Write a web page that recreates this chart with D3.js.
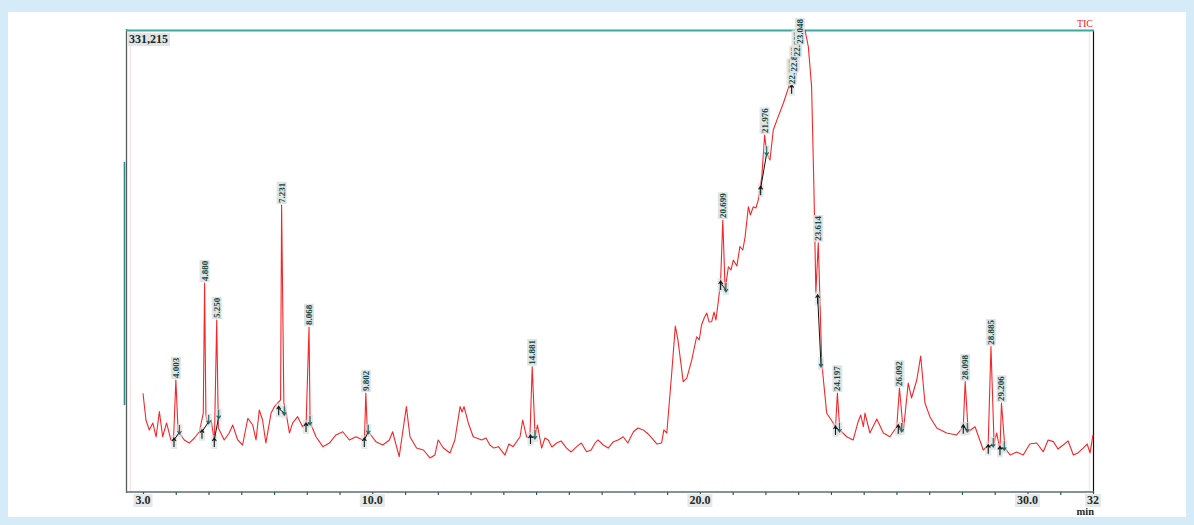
<!DOCTYPE html>
<html>
<head>
<meta charset="utf-8">
<script src="https://cdn.jsdelivr.net/npm/d3@7"></script>
<style>
  body { margin: 0; background: #d6ebf8; }
  svg { display: block; }
</style>
</head>
<body>
<script>
//chart data (time in min, intensity in thousand counts)
var times = [3.00, 3.09, 3.19, 3.30, 3.40, 3.50, 3.60, 3.72, 3.85, 3.93, 4.003, 4.07, 4.11, 4.26, 4.41, 4.57, 4.72, 4.84, 4.880, 4.92, 4.97,
  5.08, 5.18, 5.250, 5.30, 5.48, 5.63, 5.74, 5.89, 6.04, 6.20, 6.35, 6.45, 6.55, 6.65, 6.75, 6.91, 7.01, 7.11, 7.20, 7.231, 7.30,
  7.37, 7.47, 7.57, 7.72, 7.87, 7.98, 8.068, 8.10, 8.28, 8.49, 8.69, 8.89, 9.10, 9.30, 9.50, 9.71, 9.76, 9.802, 9.85, 9.91,
  10.11, 10.32, 10.52, 10.62, 10.82, 11.04, 11.15, 11.35, 11.56, 11.76, 11.91, 12.01, 12.17, 12.37, 12.52, 12.68, 12.74, 12.80,
  12.93, 13.08, 13.34, 13.47, 13.59, 13.71, 13.85, 14.05, 14.17, 14.30, 14.51, 14.59, 14.71, 14.81, 14.881, 14.97, 15.04,
  15.17, 15.27, 15.37, 15.48, 15.63, 15.76, 15.93, 16.07, 16.24, 16.38, 16.54, 16.68, 16.80, 16.89, 17.05,
  17.20, 17.36, 17.50, 17.66, 17.80, 17.97, 18.11, 18.27, 18.42, 18.58, 18.69, 18.83, 18.90, 18.99,
  19.14, 19.25, 19.33, 19.49, 19.60, 19.75, 19.90, 19.98, 20.05, 20.13, 20.21, 20.28, 20.36, 20.43, 20.49, 20.56, 20.63, 20.699,
  20.77, 20.87, 20.95, 21.02, 21.13, 21.22, 21.31, 21.38, 21.48, 21.54, 21.63, 21.71, 21.78, 21.89, 21.976, 22.04, 22.14,
  22.24, 22.39, 22.55, 22.70, 22.85, 23.00, 23.11, 23.21, 23.31, 23.41, 23.48, 23.54, 23.614, 23.72, 23.87, 24.07, 24.14, 24.197,
  24.27, 24.48, 24.68, 24.83, 24.91, 24.99, 25.04, 25.19, 25.40, 25.60, 25.80, 26.01, 26.092, 26.21, 26.36, 26.46, 26.62, 26.74,
  26.87, 27.02, 27.23, 27.53, 27.84, 28.04, 28.098, 28.19, 28.40, 28.65, 28.80, 28.885, 28.98, 29.06, 29.16, 29.206, 29.31, 29.47,
  29.67, 29.87, 30.07, 30.28, 30.48, 30.63, 30.79, 30.93, 31.09, 31.24, 31.40, 31.54, 31.70, 31.82, 31.91, 32.00];
var intensity = [70.8, 51.6, 44.5, 49.5, 39.6, 57.6, 39.6, 49.5, 37.3, 36.6, 80.3, 44.5, 42.3, 37.3, 35.1, 38.7, 43.2, 56.6, 149.8, 55.2, 49.5,
  51.6, 36.1, 123.3, 45.9, 37.3, 42.3, 48.0, 37.3, 33.7, 52.8, 48.0, 37.3, 58.8, 51.6, 35.1, 56.6, 61.2, 63.8, 66.0, 205.8, 63.8,
  56.6, 42.3, 49.5, 54.0, 46.8, 49.5, 118.3, 50.2, 39.6, 32.5, 35.1, 40.9, 43.2, 37.3, 39.6, 37.3, 37.3, 71.0, 42.3, 42.3,
  36.1, 33.7, 37.3, 43.2, 25.3, 61.2, 39.6, 31.5, 30.1, 24.4, 26.5, 37.3, 31.5, 28.0, 37.3, 61.2, 57.4, 61.2,
  49.5, 39.6, 37.3, 38.7, 33.7, 31.5, 32.5, 26.5, 34.4, 32.5, 39.6, 51.6, 39.6, 38.7, 89.8, 39.6, 48.0,
  31.5, 38.7, 37.3, 32.3, 35.1, 36.6, 31.5, 28.7, 32.5, 35.1, 28.9, 30.1, 35.1, 37.3, 33.7,
  31.5, 36.1, 37.3, 39.6, 35.1, 43.2, 45.9, 44.5, 41.6, 37.3, 34.4, 35.1, 44.5, 42.3,
  85.3, 119.0, 109.0, 79.1, 81.7, 94.6, 111.3, 109.0, 119.7, 124.7, 128.3, 121.9, 122.1, 129.0, 123.3, 136.4, 149.8, 195.0,
  144.8, 161.5, 159.2, 166.3, 162.0, 175.9, 173.5, 183.0, 204.5, 198.6, 204.5, 203.6, 209.3, 226.0, 255.9, 243.0, 238.0,
  259.5, 269.1, 278.9, 289.6, 302.5, 316.9, 329.1, 331.2, 319.2, 290.6, 218.9, 142.7, 178.7, 92.5, 56.6, 49.5, 45.9, 71.0,
  44.5, 39.6, 37.3, 50.4, 55.2, 46.8, 56.6, 42.3, 52.3, 42.3, 39.6, 46.8, 74.6, 43.2, 78.1, 67.4, 80.3, 97.5,
  63.8, 54.0, 45.9, 42.3, 40.9, 46.8, 79.1, 43.2, 46.8, 30.1, 33.7, 104.2, 35.1, 42.3, 30.1, 63.8, 31.5, 26.5,
  28.7, 26.5, 34.4, 35.1, 28.9, 37.3, 36.1, 30.8, 33.7, 36.6, 26.5, 28.0, 31.5, 34.4, 28.0, 40.9];

//labelled peaks: retention time, apex, and integration start / end
var peakLabels = ["4.003", "4.880", "5.250", "7.231", "8.068", "9.802", "14.881", "20.699", "21.976", "22.797", "22.883", "22.952", "23.048", "23.614", "24.197", "26.092", "28.098", "28.885", "29.206"];
var peakTimes = [4.003, 4.880, 5.250, 7.231, 8.068, 9.802, 14.881, 20.699, 21.976, 22.797, 22.883, 22.952, 23.048, 23.614, 24.197, 26.092, 28.098, 28.885, 29.206];
var peakApex = [80.3, 149.8, 123.3, 205.8, 118.3, 71.0, 89.8, 195.0, 255.9, 291.0, 300.0, 311.0, 320.0, 178.7, 71.0, 74.6, 79.1, 104.2, 63.8];
var startTimes = [3.946, 4.801, 5.176, 7.142, 7.976, 9.755, 14.829, 20.634, 21.855, 22.80, 22.88, 22.95, 23.02, 23.595, 24.139, 26.056, 28.040, 28.803, 29.160];
var startVals = [37.3, 43.2, 37.3, 60.0, 48.0, 37.3, 39.4, 149.8, 217.7, 290.6, 300.0, 309.0, 318.0, 140.0, 45.9, 46.8, 46.8, 32.5, 31.3];
var endTimes = [4.114, 5.005, 5.311, 7.313, 8.098, 9.877, 14.966, 20.796, 22.039, 22.88, 22.95, 23.02, 23.07, 23.696, 24.261, 26.160, 28.162, 28.955, 29.290];
var endVals = [43.0, 50.4, 54.0, 56.4, 49.5, 43.2, 39.4, 144.8, 242.8, 300.0, 309.0, 318.0, 325.0, 91.0, 44.4, 44.4, 44.4, 33.7, 31.3];

//axis
var tickValues = [3, 10, 20, 30, 32];
var tickLabels = ["3.0", "10.0", "20.0", "30.0", "32"];
var maxLabel = "331,215";

var width = 1194;
var height = 525;

var svg = d3.select("body").append("svg")
  .attr("width", width)
  .attr("height", height);

//white page inside the light blue border
svg.append("rect").attr("x", 8).attr("y", 12).attr("width", 1178).attr("height", 505).attr("fill", "#ffffff");

var x = d3.scaleLinear().domain([3, 32]).range([143, 1093]);
var y = d3.scaleLinear().domain([0, 331.215]).range([492, 30]);

//frame
svg.append("line").attr("x1", 130.5).attr("x2", 130.5).attr("y1", 31).attr("y2", 491).attr("stroke", "#f0e6e6").attr("stroke-width", 1.5);
svg.append("line").attr("x1", 1089.5).attr("x2", 1089.5).attr("y1", 31).attr("y2", 491).attr("stroke", "#f3eaea").attr("stroke-width", 1.5);
svg.append("line").attr("x1", 126.5).attr("x2", 126.5).attr("y1", 29).attr("y2", 493).attr("stroke", "#555b5b").attr("stroke-width", 1.3);
svg.append("line").attr("x1", 1093.5).attr("x2", 1093.5).attr("y1", 30).attr("y2", 493).attr("stroke", "#111").attr("stroke-width", 1.2);
svg.append("line").attr("x1", 126).attr("x2", 1094).attr("y1", 30.5).attr("y2", 30.5).attr("stroke", "#3ea79d").attr("stroke-width", 2);
svg.append("line").attr("x1", 124.5).attr("x2", 124.5).attr("y1", 162).attr("y2", 405).attr("stroke", "#2b8a84").attr("stroke-width", 1.6);

//time axis
var axis = d3.axisBottom(x)
  .tickValues(d3.range(3, 33, 1))
  .tickSize(3)
  .tickFormat("");
var axisG = svg.append("g").attr("transform", "translate(0,492)").call(axis);
axisG.select(".domain").attr("stroke", "#5b6f6f").attr("stroke-width", 1.6).attr("d", "M126,0H1094");
axisG.selectAll(".tick line").attr("stroke", "#2f5a58").attr("stroke-width", 1.2);

var labelsG = svg.append("g");
tickValues.forEach(function (v, i) {
  var t = labelsG.append("text")
    .attr("x", x(v))
    .attr("y", 504)
    .attr("text-anchor", "middle")
    .attr("font-family", "Liberation Serif")
    .attr("font-weight", "bold")
    .attr("font-size", 12)
    .attr("fill", "#1d2b2b")
    .text(tickLabels[i]);
  var b = t.node().getBBox();
  labelsG.insert("rect", "text")
    .attr("x", b.x - 2).attr("y", b.y + 1).attr("width", b.width + 4).attr("height", b.height - 1)
    .attr("fill", "#e6e9e9");
});
svg.append("text").attr("x", x(32) + 1).attr("y", 515).attr("text-anchor", "end")
  .attr("font-family", "Liberation Serif").attr("font-weight", "bold").attr("font-size", 10.5)
  .attr("fill", "#1d2b2b").text("min");

//max intensity label
var maxG = svg.append("g");
var maxT = maxG.append("text").attr("x", 129).attr("y", 43)
  .attr("font-family", "Liberation Serif").attr("font-weight", "bold").attr("font-size", 12)
  .attr("fill", "#142a2a").text(maxLabel);
var mb = maxT.node().getBBox();
maxG.insert("rect", "text").attr("x", 128).attr("y", 33).attr("width", mb.width + 3).attr("height", 13).attr("fill", "#e3e5e5");

svg.append("text").attr("x", 1093).attr("y", 27).attr("text-anchor", "end")
  .attr("font-family", "Liberation Serif").attr("font-size", 10)
  .attr("fill", "#f0282a").text("TIC");

//chromatogram trace
var trace = times.map(function (t, i) { return [t, intensity[i]]; });
var line = d3.line()
  .x(function (d) { return x(d[0]); })
  .y(function (d) { return y(d[1]); });

svg.append("path")
  .datum(trace)
  .attr("d", line)
  .attr("fill", "none")
  .attr("stroke", "#f5262a")
  .attr("stroke-width", 1.1)
  .attr("stroke-linejoin", "round");

//integration marks and baselines
var marksG = svg.append("g");
peakTimes.forEach(function (p, i) {
  var sx = x(startTimes[i]), sy = y(startVals[i]);
  var ex = x(endTimes[i]), ey = y(endVals[i]);
  marksG.append("rect").attr("x", sx - 3).attr("y", sy - 5).attr("width", 6).attr("height", 14).attr("fill", "#d5dbdb").attr("opacity", 0.6);
  marksG.append("rect").attr("x", ex - 3).attr("y", ey - 8).attr("width", 6).attr("height", 13).attr("fill", "#d5dbdb").attr("opacity", 0.6);
  marksG.append("line").attr("x1", sx).attr("y1", sy).attr("x2", ex).attr("y2", ey).attr("stroke", "#111").attr("stroke-width", 1);
  marksG.append("path")
    .attr("d", "M" + sx + "," + (sy + 7) + "V" + (sy - 2) + "M" + (sx - 2) + "," + (sy + 1) + "L" + sx + "," + (sy - 2) + "L" + (sx + 2) + "," + (sy + 1))
    .attr("fill", "none").attr("stroke", "#0d1a1a").attr("stroke-width", 1.1);
  marksG.append("path")
    .attr("d", "M" + ex + "," + (ey - 7) + "V" + (ey + 2) + "M" + (ex - 2) + "," + (ey - 1) + "L" + ex + "," + (ey + 2) + "L" + (ex + 2) + "," + (ey - 1))
    .attr("fill", "none").attr("stroke", "#1b6a65").attr("stroke-width", 1.1);
});

//peak retention time labels
var peakG = svg.append("g");
peakTimes.forEach(function (p, i) {
  var g = peakG.append("g")
    .attr("transform", "translate(" + x(p) + "," + (y(peakApex[i]) - 1) + ") rotate(-90)");
  var t = g.append("text")
    .attr("x", 1)
    .attr("y", 3)
    .attr("font-family", "Liberation Serif")
    .attr("font-weight", "bold")
    .attr("font-size", 9)
    .attr("fill", "#154646")
    .text(peakLabels[i]);
  var w = t.node().getComputedTextLength();
  g.insert("rect", "text").attr("x", 0).attr("y", -5).attr("width", w + 2).attr("height", 10).attr("fill", "#dfe4e4");
});
</script>
</body>
</html>
